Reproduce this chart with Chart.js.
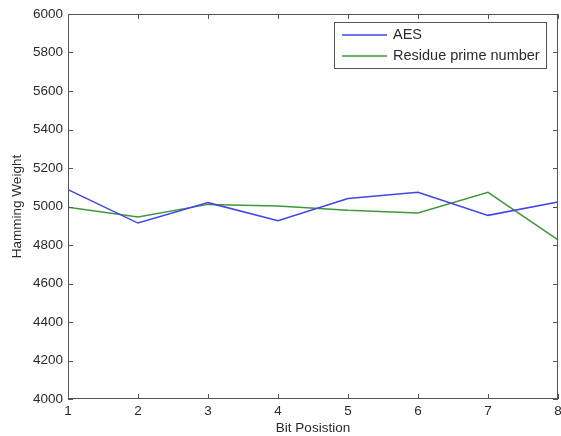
<!DOCTYPE html>
<html>
<head>
<meta charset="utf-8">
<script src="https://cdn.jsdelivr.net/npm/chart.js@4/dist/chart.umd.min.js"></script>
<style>
  body { margin: 0; background: #fff; }
  canvas { display: block; }
</style>
</head>
<body>
<canvas id="hammingChart" width="561" height="436"></canvas>
<script>
var bitPositions = ['1', '2', '3', '4', '5', '6', '7', '8'];
var aesWeights = [5088, 4914, 5020, 4926, 5041, 5074, 4954, 5023];
var residueWeights = [4996, 4945, 5011, 5003, 4980, 4966, 5074, 4827];
var seriesNames = ['AES', 'Residue prime number'];
var yMin = 4000, yMax = 6000, yStep = 200;

var FONT = '"Liberation Sans", Arial, sans-serif';
var TEXT = '#2b2b2b';
var AXIS = '#555555';

// matlab style box, inward ticks and legend
var framePlugin = {
    id: 'frame',
    afterDatasetsDraw: function (chart) {
        var ctx = chart.ctx, a = chart.chartArea;
        var x = chart.scales.x, y = chart.scales.y;
        ctx.save();
        ctx.strokeStyle = AXIS;
        ctx.lineWidth = 1;
        ctx.strokeRect(a.left + 0.5, a.top + 0.5, a.right - a.left - 1, a.bottom - a.top - 1);
        ctx.beginPath();
        x.ticks.forEach(function (t, i) {
            var px = Math.round(x.getPixelForTick(i)) + 0.5;
            ctx.moveTo(px, a.bottom); ctx.lineTo(px, a.bottom - 5);
            ctx.moveTo(px, a.top); ctx.lineTo(px, a.top + 5);
        });
        y.ticks.forEach(function (t, i) {
            var py = Math.round(y.getPixelForTick(i)) + 0.5;
            ctx.moveTo(a.left, py); ctx.lineTo(a.left + 5, py);
            ctx.moveTo(a.right, py); ctx.lineTo(a.right - 5, py);
        });
        ctx.stroke();

        // legend
        var bx = a.right - 224, by = a.top + 8, bw = 212, bh = 46;
        ctx.fillStyle = '#fff';
        ctx.fillRect(bx, by, bw, bh);
        ctx.strokeRect(bx + 0.5, by + 0.5, bw, bh);
        ctx.font = '14.5px ' + FONT;
        ctx.textBaseline = 'middle';
        chart.data.datasets.forEach(function (ds, i) {
            var ly = by + 13 + i * 21;
            ctx.strokeStyle = ds.borderColor;
            ctx.lineWidth = 1.4;
            ctx.beginPath();
            ctx.moveTo(bx + 8, ly); ctx.lineTo(bx + 53, ly);
            ctx.stroke();
            ctx.fillStyle = TEXT;
            ctx.fillText(ds.label, bx + 59, ly);
        });
        ctx.restore();
    }
};

var ctx1 = document.getElementById('hammingChart').getContext('2d');
var hammingChart = new Chart(ctx1, {
    type: 'line',
    data: {
        labels: bitPositions,
        datasets: [{
            label: seriesNames[0],
            data: aesWeights,
            borderColor: '#4343e6',
            borderWidth: 1.5,
            pointRadius: 0,
            tension: 0
        }, {
            label: seriesNames[1],
            data: residueWeights,
            borderColor: '#3f973f',
            borderWidth: 1.5,
            pointRadius: 0,
            tension: 0
        }]
    },
    options: {
        responsive: false,
        animation: false,
        layout: { autoPadding: false, padding: { top: 14, right: 3, left: 0, bottom: 0 } },
        plugins: {
            legend: { display: false },
            tooltip: { enabled: false }
        },
        scales: {
            x: {
                offset: false,
                grid: { display: false, drawTicks: false },
                border: { display: false },
                ticks: { color: TEXT, font: { family: FONT, size: 13.5 }, padding: 4, maxRotation: 0 },
                title: { display: true, text: 'Bit Posistion', color: TEXT, font: { family: FONT, size: 13.5 }, padding: { top: 0, bottom: 0 } },
                afterFit: function (scale) {
                    scale.height = 37;
                    scale.paddingLeft = 0;
                    scale.paddingRight = 0;
                }
            },
            y: {
                min: yMin,
                max: yMax,
                grid: { display: false, drawTicks: false },
                border: { display: false },
                ticks: {
                    stepSize: yStep, color: TEXT, font: { family: FONT, size: 13.5 }, padding: 5,
                    callback: function (v) { return String(v); }
                },
                title: { display: true, text: 'Hamming Weight', color: TEXT, font: { family: FONT, size: 13.5 }, padding: { top: 9, bottom: 0 } },
                afterFit: function (scale) {
                    scale.width = 68;
                    scale.paddingTop = 0;
                    scale.paddingBottom = 0;
                }
            }
        }
    },
    plugins: [framePlugin]
});
</script>
</body>
</html>
